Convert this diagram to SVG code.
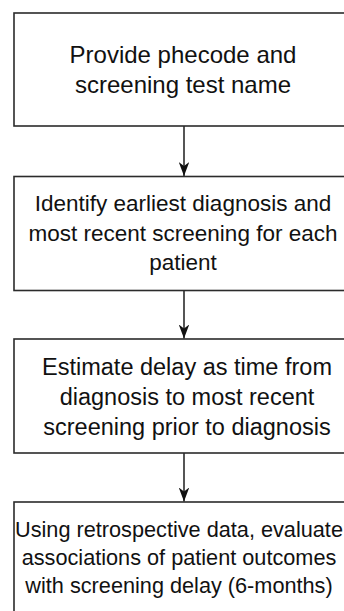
<svg xmlns="http://www.w3.org/2000/svg" width="344" height="611" viewBox="0 0 344 611">
  <defs>
    <style>
      .box { fill: #ffffff; stroke: #2b2b2b; stroke-width: 1.6; }
      .lbl { font-family: "Liberation Sans", Arial, Helvetica, sans-serif; fill: #111111; text-anchor: middle; }
      .edge { fill: none; stroke: #2b2b2b; stroke-width: 1.6; }
    </style>
    <!-- notched arrowhead pointing along the line direction -->
    <marker id="arrow" markerWidth="14" markerHeight="10.5" refX="14" refY="5.25" orient="auto" markerUnits="userSpaceOnUse" viewBox="0 0 14 10.5">
      <path d="M0,0 L14,5.25 L0,10.5 L4,5.25 Z" fill="#111111"/>
    </marker>
  </defs>
  <rect width="344" height="611" fill="#ffffff"/>

  <g id="step1">
    <rect class="box" x="14" y="13" width="340" height="113"/>
    <text class="lbl" font-size="24" x="183" y="63">Provide phecode and</text>
    <text class="lbl" font-size="24" x="183" y="93">screening test name</text>
  </g>

  <g id="step2">
    <rect class="box" x="14" y="176.5" width="340" height="114"/>
    <text class="lbl" font-size="22.5" x="183" y="211">Identify earliest diagnosis and</text>
    <text class="lbl" font-size="22.5" x="183" y="240.5">most recent screening for each</text>
    <text class="lbl" font-size="22.5" x="183" y="270">patient</text>
  </g>

  <g id="step3">
    <rect class="box" x="14" y="339" width="340" height="114"/>
    <text class="lbl" font-size="23.5" x="187" y="375">Estimate delay as time from</text>
    <text class="lbl" font-size="23.5" x="187" y="405">diagnosis to most recent</text>
    <text class="lbl" font-size="23.5" x="187" y="435">screening prior to diagnosis</text>
  </g>

  <g id="step4">
    <rect class="box" x="14" y="502" width="340" height="114"/>
    <text class="lbl" font-size="21.7" x="179" y="537">Using retrospective data, evaluate</text>
    <text class="lbl" font-size="21.7" x="179" y="565">associations of patient outcomes</text>
    <text class="lbl" font-size="21.7" x="179" y="593">with screening delay (6-months)</text>
  </g>

  <g id="connectors">
    <line class="edge" x1="184" y1="126" x2="184" y2="176" marker-end="url(#arrow)"/>
    <line class="edge" x1="184" y1="290.5" x2="184" y2="338.5" marker-end="url(#arrow)"/>
    <line class="edge" x1="184" y1="453" x2="184" y2="501.5" marker-end="url(#arrow)"/>
  </g>
</svg>
